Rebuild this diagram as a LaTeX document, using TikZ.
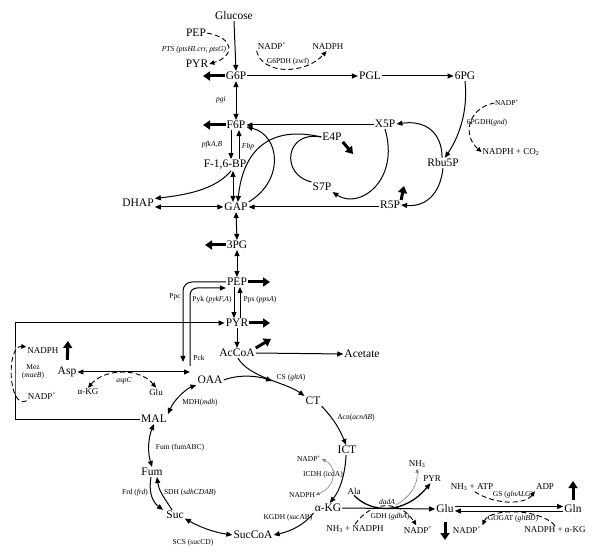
\documentclass[tikz,border=0pt]{standalone}
\usepackage{fontspec}
\setmainfont{Liberation Serif}
\usetikzlibrary{arrows.meta}
\begin{document}
\begin{tikzpicture}[x=1pt,y=-1pt,
  met/.style={font=\fontsize{11.5}{13}\selectfont,inner sep=1pt},
  cof/.style={font=\fontsize{9}{10}\selectfont,inner sep=1pt},
  enz/.style={font=\fontsize{7.5}{8.5}\selectfont,inner sep=0.5pt},
  rx/.style={line width=1pt,-{Triangle[length=6pt,width=5pt]}},
  rxx/.style={line width=1pt,{Triangle[length=6pt,width=5pt]}-{Triangle[length=6pt,width=5pt]}},
  flux/.style={line width=3pt,-{Triangle[length=7pt,width=9pt]}},
  cofx/.style={line width=0.9pt,dash pattern=on 5pt off 3pt,-{Triangle[length=5pt,width=4.5pt]}},
  cofxx/.style={line width=0.9pt,dash pattern=on 5pt off 3pt,{Triangle[length=5pt,width=4.5pt]}-{Triangle[length=5pt,width=4.5pt]}},
  side/.style={gray,line width=0.6pt,{Triangle[length=4pt,width=3.5pt]}-{Triangle[length=4pt,width=3.5pt]}},
  sideone/.style={gray,line width=0.6pt,-{Triangle[length=4pt,width=3.5pt]}}]
\useasboundingbox (0,0) rectangle (600,553);

\node[met] (Glc) at (234,16) {Glucose};
\node[met] (PEPa) at (196,33) {PEP};
\node[met] (PYRa) at (197,64) {PYR};
\node[met] (G6P) at (236,76) {G6P};
\node[met] (F6P) at (236,125) {F6P};
\node[met] (FBP) at (225,165) {F-1,6-BP};
\node[met] (DHAP) at (138,203) {DHAP};
\node[met] (GAP) at (236,207) {GAP};
\node[met] (PGA) at (237,245) {3PG};
\node[met] (PEP) at (237,282) {PEP};
\node[met] (PYR) at (237,323) {PYR};
\node[met] (AcCoA) at (237,353) {AcCoA};
\node[met] (Acetate) at (362,354) {Acetate};
\node[met] (PGL) at (370,76) {PGL};
\node[met] (PGn) at (465,76) {6PG};
\node[met] (Rbu5P) at (443,163) {Rbu5P};
\node[met] (X5P) at (385,124) {X5P};
\node[met] (E4P) at (332,137) {E4P};
\node[met] (S7P) at (322,187) {S7P};
\node[met] (R5P) at (390,205) {R5P};
\node[met] (OAA) at (210,380) {OAA};
\node[met] (CT) at (313,401) {CT};
\node[met] (ICT) at (347,450) {ICT};
\node[met] (aKG) at (328,508) {α-KG};
\node[met] (SucCoA) at (253,535) {SucCoA};
\node[met] (Suc) at (175,515) {Suc};
\node[met] (Fum) at (152,472) {Fum};
\node[met] (MAL) at (154,419) {MAL};
\node[met] (Asp) at (67,372) {Asp};
\node[met] (Glu) at (445,509) {Glu};
\node[met] (Gln) at (573,509) {Gln};

\node[cof] (NADPg) at (272,46) {NADP\textsuperscript{+}};
\node[cof] (NADPHg) at (328,47) {NADPH};
\node[enz] (NADPp) at (507,103) {NADP\textsuperscript{+}};
\node[cof] (NADPHp) at (511,152) {NADPH + CO\textsubscript{2}};
\node[cof] (NADPHm) at (43,351) {NADPH};
\node[cof] (NADPm) at (42,396) {NADP\textsuperscript{+}};
\node[cof] (aKGa) at (88,392) {α-KG};
\node[cof] (Glua) at (156,392) {Glu};
\node[enz] (NADPi) at (309,459) {NADP\textsuperscript{+}};
\node[enz] (NADPHi) at (302,495) {NADPH};
\node[cof] (Ala) at (354,491) {Ala};
\node[cof] (NH3a) at (417,464) {NH\textsubscript{3}};
\node[cof] (PYRb) at (432,479) {PYR};
\node[cof] (NH3N) at (355,529) {NH\textsubscript{3} + NADPH};
\node[cof] (NADPd) at (418,530) {NADP\textsuperscript{+}};
\node[cof] (NH3ATP) at (472,487) {NH\textsubscript{3} + ATP};
\node[cof] (ADP) at (545,487) {ADP};
\node[cof] (NADPo) at (467,530) {NADP\textsuperscript{+}};
\node[cof] (NADPHo) at (555,530) {NADPH + α-KG};

\node[enz] (pts) at (194,50) {\textit{PTS (ptsHI.crr, ptsG)}};
\node[enz] (g6pdh) at (288,62) {G6PDH (zwf)};
\node[enz] (pgdh) at (487,123) {6PGDH(\textit{gnd})};
\node[enz] (pgi) at (221,100) {\textit{pgi}};
\node[enz] (pfk) at (212,145) {\textit{pfkA,B}};
\node[enz] (fbp) at (248,147) {\textit{Fbp}};
\node[enz] (ppc) at (175,297) {Ppc};
\node[enz] (pyk) at (212,300) {Pyk (\textit{pykF,A})};
\node[enz] (pps) at (260,300) {Pps (\textit{ppsA})};
\node[enz] (pck) at (199,358) {Pck};
\node[enz] (cs) at (291,378) {CS (\textit{gltA})};
\node[enz] (aspc) at (124,381) {\textit{aspC}};
\node[enz,align=center] (mez) at (33,372) {Mez\\(\textit{maeB})};
\node[enz] (mdh) at (200,403) {MDH(\textit{mdh})};
\node[enz] (acn) at (356,418) {Acn(\textit{acnAB})};
\node[enz] (icdh) at (323,475) {ICDH (icdA)};
\node[enz] (kgdh) at (288,518) {KGDH (sucAB)};
\node[enz] (dada) at (387,502) {\textit{dadA}};
\node[enz] (gdh) at (390,517) {GDH (\textit{gdhA})};
\node[enz] (gs) at (513,495) {GS (\textit{glnALG})};
\node[enz] (gogat) at (513,519) {GOGAT (\textit{gltBD})};
\node[enz] (fum) at (180,448) {Fum (fumABC)};
\node[enz] (frd) at (135,493) {Frd (\textit{frd})};
\node[enz] (sdh) at (190,493) {SDH (\textit{sdhCDAB})};
\node[enz] (scs) at (193,543) {SCS (sucCD)};

\coordinate (g6pout) at (203,76);
\coordinate (f6pout) at (203,125);
\coordinate (pgaout) at (205,245);
\coordinate (pepout) at (270,282);
\coordinate (pyrout) at (270,323);
\coordinate (accout) at (271,339);
\coordinate (e4pout) at (353,154);
\coordinate (r5pout) at (404,186);
\coordinate (aspout) at (68,341);
\coordinate (gluout) at (445,540);
\coordinate (glnout) at (573,481);
\coordinate (mezc) at (15,370);
\coordinate (ppcend) at (183,362);
\coordinate (pckst) at (190,366);
\coordinate (aspend) at (190,372);
\coordinate (csm) at (272,381);
\coordinate (dadm) at (396,505);

\draw[rx] (Glc.south) -- (G6P.north);
\draw[cofx] (PEPa.east) .. controls (235,38) and (235,56) .. (PYRa.east);
\draw[flux] (G6P.west) -- (g6pout);
\draw[rxx] (G6P.south) -- (F6P.north);
\draw[flux] (F6P.west) -- (f6pout);
\draw[rx] ([xshift=-5pt]F6P.south) -- ([xshift=6pt]FBP.north);
\draw[rx] ([xshift=14pt]FBP.north) -- ([xshift=3pt]F6P.south);
\draw[rxx] ([xshift=8pt]FBP.south) -- ([xshift=-3pt]GAP.north);
\draw[rx] ([xshift=6pt]FBP.south) .. controls (215,190) and (185,195) .. (DHAP.15);
\draw[rxx] (DHAP.east |- GAP.west) -- (GAP.west);
\draw[rxx] (GAP.south) -- (PGA.north);
\draw[flux] (PGA.west) -- (pgaout);
\draw[rxx] (PGA.south) -- (PEP.north);
\draw[flux] (PEP.east) -- (pepout);
\draw[rx] ([xshift=-3pt]PEP.south) -- ([xshift=-3pt]PYR.north);
\draw[rx] ([xshift=3pt]PYR.north) -- ([xshift=3pt]PEP.south);
\draw[flux] (PYR.east) -- (pyrout);
\draw[rx] (PYR.south) -- (AcCoA.north);
\draw[flux] (AcCoA.north east) -- (accout);
\draw[rx] (AcCoA.east) -- (Acetate.west);
\draw[rx,rounded corners=9pt] (PEP.west) -| (ppcend);
\draw[rx,rounded corners=7pt] (pckst) |- ([yshift=-6pt]PEP.west);
\draw[rx] (MAL.west) -| (mezc) |- (PYR.west);

\draw[rx] (G6P.east) -- (PGL.west);
\draw[cofx] (NADPg.south west) .. controls (262,75) and (305,75) .. (NADPHg.-110);
\draw[rx] (PGL.east) -- (PGn.west);
\draw[rx] (PGn.south) .. controls (468,110) and (460,135) .. (Rbu5P.70);
\draw[cofx] (NADPp.west) .. controls (468,108) and (462,135) .. (NADPHp.west);
\draw[rx] (Rbu5P.100) .. controls (442,132) and (425,120) .. (X5P.east);
\draw[rx] (Rbu5P.south) .. controls (440,195) and (425,207) .. (R5P.east);
\draw[rx] (X5P.west |- F6P.east) -- (F6P.east);
\draw[rx] (R5P.west |- GAP.east) -- (GAP.east);
\draw[rx] (X5P.south) .. controls (400,180) and (360,210) .. (S7P.south east);
\draw[line width=1pt] (E4P.west) .. controls (285,130) and (280,175) .. (S7P.north west);
\draw[rx] (E4P.west) .. controls (270,125) and (243,150) .. (GAP.70);
\draw[rx] (GAP.north east) .. controls (285,180) and (280,135) .. (F6P.-10);
\draw[flux] (E4P.south east) -- (e4pout);
\draw[flux] (R5P.north east) -- (r5pout);

\draw[rx] (OAA.east) .. controls (240,374) and (258,376) .. (csm);
\draw[rx] (AcCoA.-80) .. controls (250,378) and (285,382) .. (CT.north west);
\draw[rx] (CT.south east) .. controls (330,415) and (338,425) .. (ICT.100);
\draw[rx] (ICT.-100) .. controls (345,475) and (340,490) .. (aKG.70);
\draw[side] (NADPi.east) .. controls (337,466) and (337,486) .. (NADPHi.east);
\draw[rx] (aKG.south west) .. controls (305,524) and (292,531) .. (SucCoA.east);
\draw[rxx] (SucCoA.west) .. controls (212,532) and (198,526) .. (Suc.-20);
\draw[rx] ([xshift=-1pt]Fum.south) .. controls (148,495) and (154,503) .. ([xshift=-12pt]Suc.north);
\draw[rx] ([xshift=-3pt]Suc.north) .. controls (166,500) and (159,492) .. ([xshift=5pt]Fum.south);
\draw[rxx] (Fum.north) .. controls (147,450) and (149,436) .. (MAL.south);
\draw[rxx] (MAL.north east) .. controls (175,398) and (188,388) .. (OAA.south west);

\draw[flux,shorten <=6pt] (Asp.north) -- (aspout);
\draw[rxx] (Asp.east) -- (aspend);
\draw[cofxx] (aKGa.north) .. controls (105,368) and (140,368) .. (Glua.north);
\draw[cofx] (NADPm.south west) .. controls (8,410) and (6,345) .. (NADPHm.north west);

\draw[rx] (aKG.east) -- (Glu.west);
\draw[line width=1.3pt,-{Triangle[length=6pt,width=5pt]}] (Ala.south) .. controls (372,514) and (405,514) .. (PYRb.-110);
\draw[sideone] (dadm) .. controls (410,497) and (418,485) .. (NH3a.south);
\draw[cofx] (NH3N.north) .. controls (372,500) and (400,500) .. (NADPd.110);
\draw[flux,shorten <=8pt] (Glu.south) -- (gluout);
\draw[rx] ([yshift=2.5pt]Glu.east) -- ([yshift=2.5pt]Gln.west);
\draw[rx] ([yshift=-2pt]Gln.west) -- ([yshift=-2pt]Glu.east);
\draw[flux,shorten <=4pt] (Gln.north) -- (glnout);
\draw[cofx] (NH3ATP.-60) .. controls (495,505) and (525,505) .. (ADP.south west);
\draw[cofx] (NADPHo.north) .. controls (540,508) and (490,508) .. (NADPo.north east);
\end{tikzpicture}
\end{document}
